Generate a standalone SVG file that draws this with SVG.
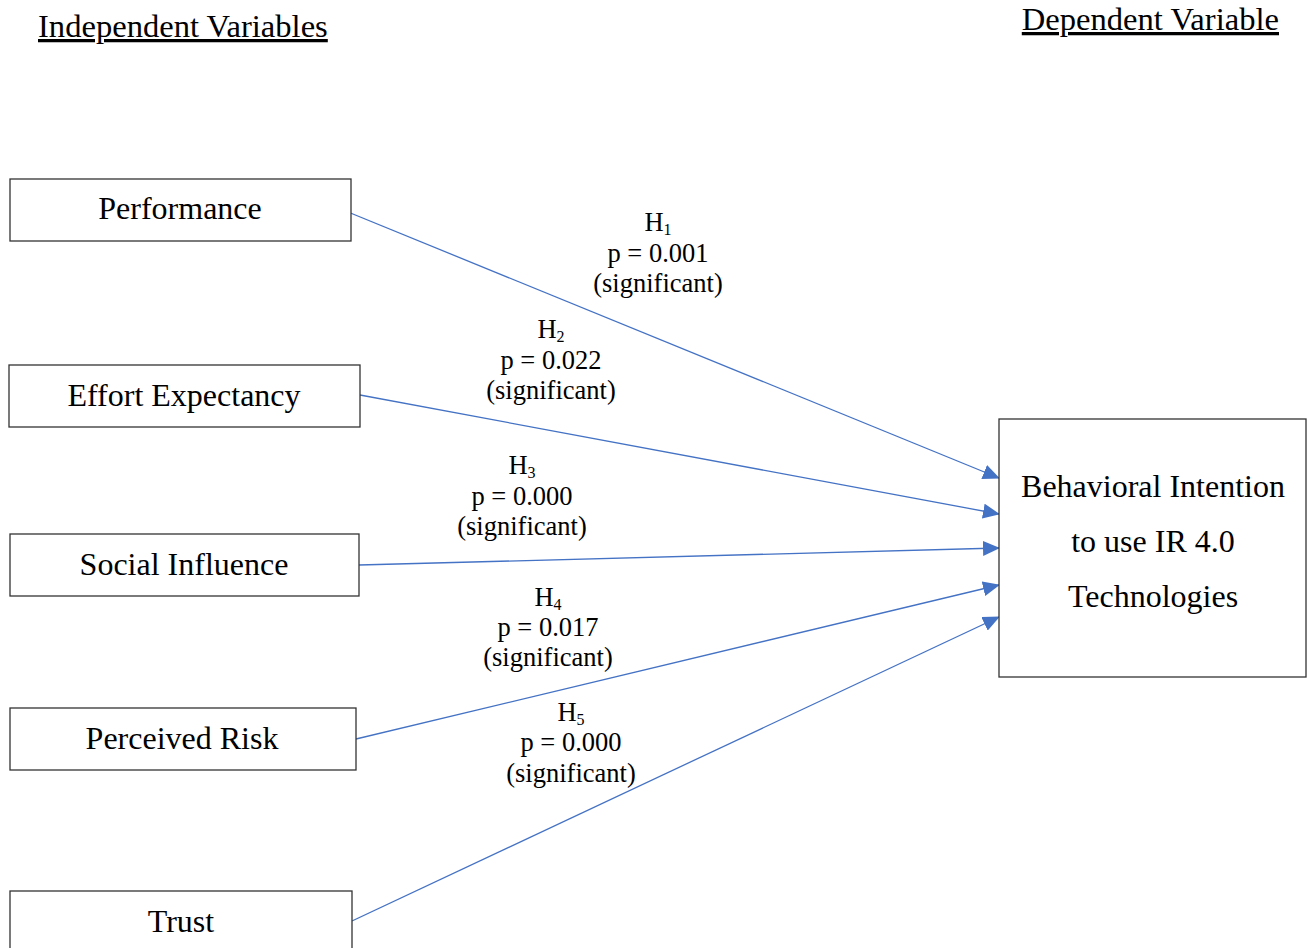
<svg xmlns="http://www.w3.org/2000/svg" width="1308" height="948" viewBox="0 0 1308 948">
<style>
.box{fill:#fff;stroke:#333;stroke-width:1.3}
.t{font-family:"Liberation Serif","Times New Roman",serif;font-size:32px;fill:#000;text-anchor:middle}
.l{font-family:"Liberation Serif","Times New Roman",serif;font-size:26.5px;fill:#000;text-anchor:middle}
.h{font-family:"Liberation Serif","Times New Roman",serif;font-size:32.6px;fill:#000;text-decoration:underline}
.c{stroke:#4472C4;stroke-width:1.3;fill:none;marker-end:url(#a)}
</style>
<defs>
<marker id="a" markerWidth="17" markerHeight="15" refX="16" refY="7.5" orient="auto" markerUnits="userSpaceOnUse">
<path d="M0,0 L17,7.5 L0,15 Z" fill="#4472C4"/>
</marker>
</defs>
<rect width="1308" height="948" fill="#fff"/>
<text class="h" x="38" y="37">Independent Variables</text>
<text class="h" x="1279" y="30" text-anchor="end">Dependent Variable</text>
<g id="connectors">
<line class="c" x1="348" y1="212" x2="999" y2="478"/>
<line class="c" x1="360" y1="395" x2="999" y2="514"/>
<line class="c" x1="359" y1="565" x2="999" y2="548"/>
<line class="c" x1="356" y1="739" x2="999" y2="585"/>
<line class="c" x1="352" y1="921" x2="999" y2="617"/>
</g>
<g id="labels">
<text class="l" x="658" y="231">H<tspan font-size="16" dy="4">1</tspan></text>
<text class="l" x="658" y="262">p = 0.001</text>
<text class="l" x="658" y="292">(significant)</text>
<text class="l" x="551" y="338">H<tspan font-size="16" dy="4">2</tspan></text>
<text class="l" x="551" y="369">p = 0.022</text>
<text class="l" x="551" y="399">(significant)</text>
<text class="l" x="522" y="474">H<tspan font-size="16" dy="4">3</tspan></text>
<text class="l" x="522" y="505">p = 0.000</text>
<text class="l" x="522" y="535">(significant)</text>
<text class="l" x="548" y="606">H<tspan font-size="16" dy="4">4</tspan></text>
<text class="l" x="548" y="636">p = 0.017</text>
<text class="l" x="548" y="666">(significant)</text>
<text class="l" x="571" y="721">H<tspan font-size="16" dy="4">5</tspan></text>
<text class="l" x="571" y="751">p = 0.000</text>
<text class="l" x="571" y="782">(significant)</text>
</g>
<g id="performance"><rect class="box" x="10" y="179" width="341" height="62"/><text class="t" x="180" y="219">Performance</text></g>
<g id="effort"><rect class="box" x="9" y="365" width="351" height="62"/><text class="t" x="184" y="406">Effort Expectancy</text></g>
<g id="social"><rect class="box" x="10" y="534" width="349" height="62"/><text class="t" x="184" y="575">Social Influence</text></g>
<g id="risk"><rect class="box" x="10" y="708" width="346" height="62"/><text class="t" x="182" y="749">Perceived Risk</text></g>
<g id="trust"><rect class="box" x="10" y="891" width="342" height="70"/><text class="t" x="181" y="932">Trust</text></g>
<g id="behavioral"><rect class="box" x="999" y="419" width="307" height="258"/>
<text class="t" x="1153" y="497">Behavioral Intention</text>
<text class="t" x="1153" y="552">to use IR 4.0</text>
<text class="t" x="1153" y="607">Technologies</text></g>
</svg>
